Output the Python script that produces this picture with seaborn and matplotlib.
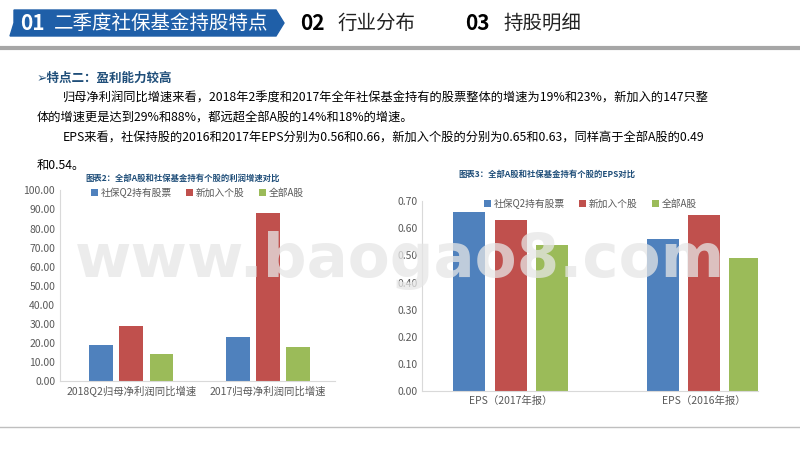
import pandas as pd
import seaborn as sns
import matplotlib.pyplot as plt
from matplotlib.patches import Polygon

plt.rcParams['font.family'] = ['Noto Sans CJK SC', 'DejaVu Sans']

# data
series = ['社保Q2持有股票', '新加入个股', '全部A股']
colors = ['#4f81bd', '#c0504d', '#9bbb59']
cats_left = ['2018Q2归母净利润同比增速', '2017归母净利润同比增速']
left_vals = {'社保Q2持有股票': [19, 23], '新加入个股': [29, 88], '全部A股': [14, 18]}
cats_right = ['EPS（2017年报）', 'EPS（2016年报）']
right_vals = {'社保Q2持有股票': [0.66, 0.56], '新加入个股': [0.63, 0.65], '全部A股': [0.54, 0.49]}


def to_df(cats, vals):
    rows = []
    for s in series:
        for c, v in zip(cats, vals[s]):
            rows.append({'cat': c, 'series': s, 'val': v})
    return pd.DataFrame(rows)


fig = plt.figure(figsize=(8, 4.5), dpi=100)
fig.patch.set_facecolor('white')

# header
bg = fig.add_axes([0, 0, 1, 1])
bg.set_xlim(0, 800)
bg.set_ylim(450, 0)
bg.axis('off')
bg.add_patch(Polygon([[14, 10], [276, 10], [284, 23], [276, 36], [10, 36], [14, 23]],
                     closed=True, color='#1f5fa8'))
bg.text(20, 23, '01', color='white', fontsize=15, fontweight='bold', va='center')
bg.text(54, 23, '二季度社保基金持股特点', color='white', fontsize=14, va='center')
bg.text(300, 23, '02', color='black', fontsize=15, fontweight='bold', va='center')
bg.text(338, 23, '行业分布', color='#222222', fontsize=14, va='center')
bg.text(465, 23, '03', color='black', fontsize=15, fontweight='bold', va='center')
bg.text(503, 23, '持股明细', color='#222222', fontsize=14, va='center')
bg.plot([0, 800], [48, 48], color='#a6a6a6', lw=3)
bg.plot([0, 800], [427, 427], color='#bfbfbf', lw=1)

body = 8.8
bg.text(37, 78, '➢特点二：盈利能力较高', color='#1f4e79', fontsize=9, fontweight='bold', va='center')
bg.text(63, 98, '归母净利润同比增速来看，2018年2季度和2017年全年社保基金持有的股票整体的增速为19%和23%，新加入的147只整',
        fontsize=body, va='center')
bg.text(37, 118, '体的增速更是达到29%和88%，都远超全部A股的14%和18%的增速。', fontsize=body, va='center')
bg.text(63, 138, 'EPS来看，社保持股的2016和2017年EPS分别为0.56和0.66，新加入个股的分别为0.65和0.63，同样高于全部A股的0.49',
        fontsize=body, va='center')
bg.text(37, 165, '和0.54。', fontsize=body, va='center')
bg.text(85, 178, '图表2：全部A股和社保基金持有个股的利润增速对比', color='#1f4e79', fontsize=6, fontweight='bold', va='center')
bg.text(458, 174, '图表3：全部A股和社保基金持有个股的EPS对比', color='#1f4e79', fontsize=6, fontweight='bold', va='center')


def draw(ax, df, cats, ymax, step, fmt, xlim, width):
    sns.barplot(data=df, x='cat', y='val', hue='series', order=cats, hue_order=series,
                palette=colors, width=width, gap=0.22, ax=ax, saturation=1)
    ax.set_ylim(0, ymax)
    ax.set_xlim(*xlim)
    ticks = [i * step for i in range(int(round(ymax / step)) + 1)]
    ax.set_yticks(ticks)
    ax.set_yticklabels([fmt.format(t) for t in ticks], fontsize=7.5, color='#595959')
    ax.tick_params(axis='x', labelsize=7.5, colors='#595959', length=0)
    ax.tick_params(axis='y', length=0)
    ax.set_xlabel('')
    ax.set_ylabel('')
    for s in ['top', 'right']:
        ax.spines[s].set_visible(False)
    ax.spines['left'].set_color('#d9d9d9')
    ax.spines['bottom'].set_color('#d9d9d9')
    ax.legend(loc='upper center', bbox_to_anchor=(0.5, 1.06), ncol=3, frameon=False,
              fontsize=7, handlelength=0.7, handleheight=0.7, columnspacing=1.5,
              labelcolor='#595959', handletextpad=0.3)


ax1 = fig.add_axes([0.075, 0.153, 0.344, 0.424])
draw(ax1, to_df(cats_left, left_vals), cats_left, 100, 10, '{:.2f}', (-0.52, 1.49), 0.66)
ax2 = fig.add_axes([0.528, 0.131, 0.42, 0.422])
draw(ax2, to_df(cats_right, right_vals), cats_right, 0.7, 0.1, '{:.2f}', (-0.456, 1.28), 0.64)

# watermark on top of everything
fig.text(0.5, 0.42, 'www.baogao8.com', color='#e6e6e6', alpha=0.75, fontsize=44, fontweight='bold',
         ha='center', va='center', zorder=100, family='DejaVu Sans')

fig.savefig('out.png', dpi=100)
